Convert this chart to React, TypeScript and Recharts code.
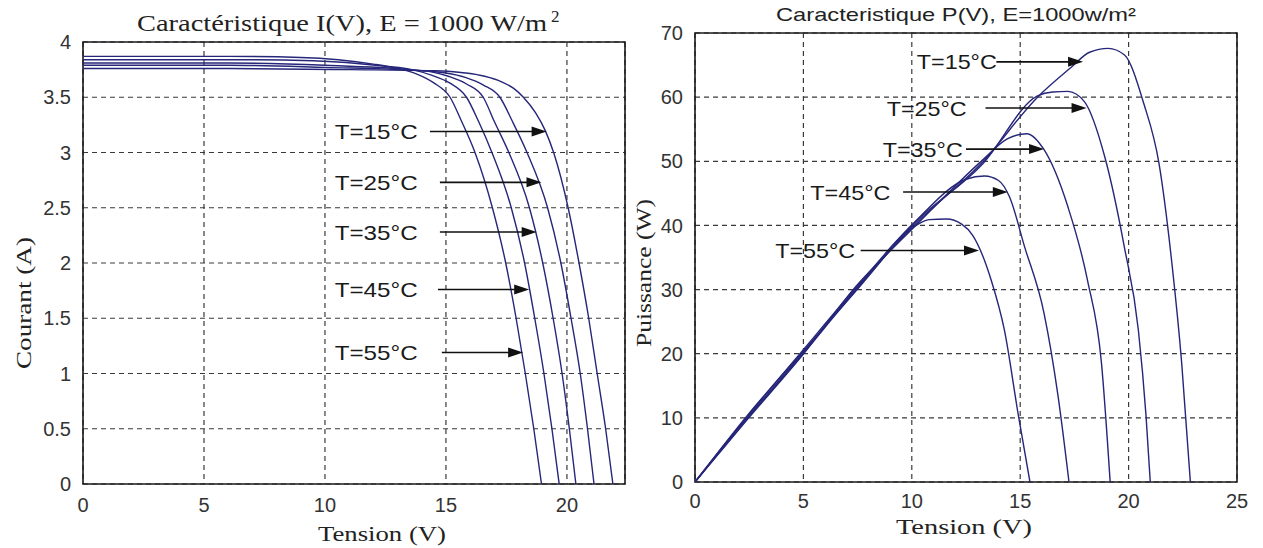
import React from 'react';
import {
  LineChart,
  Line,
  XAxis,
  YAxis,
  CartesianGrid,
  ReferenceLine,
  ReferenceDot,
  ReferenceArea,
} from 'recharts';

// ---------- labels ----------
const tempLabels = ['T=15°C', 'T=25°C', 'T=35°C', 'T=45°C', 'T=55°C'];
const ivXTicks = [0, 5, 10, 15, 20];
const ivYTicks = [0, 0.5, 1, 1.5, 2, 2.5, 3, 3.5, 4];
const pvXTicks = [0, 5, 10, 15, 20, 25];
const pvYTicks = [0, 10, 20, 30, 40, 50, 60, 70];

// ---------- I(V) curves ----------
const iv15V = [0, 6, 11, 14.5, 15.8, 16.6, 17.3, 17.8, 18.2, 18.7, 19.1, 19.45, 20.05, 20.5, 20.9, 21.25, 21.6, 21.9];
const iv15I = [3.76, 3.76, 3.75, 3.74, 3.72, 3.69, 3.64, 3.58, 3.5, 3.36, 3.2, 3.0, 2.5, 2.0, 1.5, 1.0, 0.5, 0];
const iv25V = [0, 6, 10, 14, 15.0, 15.8, 16.55, 17.23, 17.75, 18.35, 19.2, 19.75, 20.17, 20.55, 20.85, 21.12];
const iv25I = [3.79, 3.79, 3.77, 3.74, 3.72, 3.68, 3.61, 3.5, 3.28, 3.0, 2.5, 2.0, 1.5, 1.0, 0.5, 0];
const iv35V = [0, 6, 10, 13.5, 14.4, 15.1, 15.85, 16.54, 17.0, 17.6, 18.45, 19.0, 19.43, 19.8, 20.1, 20.37];
const iv35I = [3.81, 3.81, 3.79, 3.75, 3.73, 3.69, 3.62, 3.5, 3.28, 3.0, 2.5, 2.0, 1.5, 1.0, 0.5, 0];
const iv45V = [0, 6, 9.5, 12.5, 13.6, 14.4, 15.15, 15.85, 16.35, 16.9, 17.7, 18.25, 18.67, 19.05, 19.38, 19.68];
const iv45I = [3.84, 3.84, 3.83, 3.78, 3.75, 3.7, 3.63, 3.5, 3.28, 3.0, 2.5, 2.0, 1.5, 1.0, 0.5, 0];
const iv55V = [0, 6, 9, 12, 13, 13.8, 14.5, 15.17, 15.65, 16.2, 16.92, 17.47, 17.9, 18.28, 18.63, 18.95];
const iv55I = [3.87, 3.87, 3.86, 3.8, 3.76, 3.71, 3.63, 3.5, 3.28, 3.0, 2.5, 2.0, 1.5, 1.0, 0.5, 0];

// ---------- P(V) curves ----------
const pv15V = [0, 2.4, 4.94, 7.4, 10.1, 13.3, 15.8, 17.3, 18.2, 19.06, 19.8, 20.7, 21.4, 22.0, 22.45, 22.85];
const pv15P = [0, 10, 20, 30, 40, 50, 60, 64.5, 67, 67.6, 66.6, 59, 49.7, 34, 18.5, 0];
const pv25V = [0, 2.4, 4.94, 7.4, 10.1, 13.3, 15.8, 16.5, 17.2, 17.96, 18.9, 19.8, 20.45, 20.8, 21.0];
const pv25P = [0, 10.3, 20.2, 29.7, 40.3, 49.7, 60.2, 60.8, 60.9, 59.3, 50.7, 36.7, 23.7, 10.5, 0];
const pv35V = [0, 2.4, 4.94, 7.4, 10.1, 13.3, 14.4, 15.3, 16.1, 17.2, 18.1, 18.75, 19.15];
const pv35P = [0, 9.7, 19.7, 30.4, 39.7, 50.3, 53.5, 54.3, 51.8, 42.9, 31.5, 18.5, 0];
const pv45V = [0, 2.4, 4.94, 7.4, 10.1, 12.5, 13.35, 14.0, 14.5, 15.2, 16.1, 16.75, 17.25];
const pv45P = [0, 10.2, 20.4, 30.2, 40.4, 47.2, 47.7, 47, 44.5, 36.7, 26.3, 13.3, 0];
const pv55V = [0, 2.4, 4.94, 7.4, 10.1, 10.8, 11.6, 12.3, 12.8, 13.66, 14.27, 14.9, 15.45];
const pv55P = [0, 9.8, 19.8, 29.8, 39.8, 40.9, 41, 40.2, 38.5, 31.5, 23.7, 10.7, 0];

// ---------- annotations (data coordinates) ----------
const ivLabelX = [10.4, 10.4, 10.4, 10.4, 10.4];
const ivArrowLevel = [3.19, 2.73, 2.28, 1.76, 1.19];
const ivArrowStart = [14.34, 14.75, 14.75, 14.67, 14.83];
const ivArrowEnd = [19.16, 18.95, 18.75, 18.44, 18.19];

const pvLabelX = [10.23, 8.84, 8.66, 5.32, 3.7];
const pvArrowLevel = [65.5, 58.3, 51.9, 45.2, 36.1];
const pvArrowStart = [13.9, 13.4, 12.5, 9.6, 7.64];
const pvArrowEnd = [17.9, 18.06, 16.1, 14.43, 13.1];

const zip = (xs: number[], ys: number[]) => xs.map((x, i) => ({ x, y: ys[i] }));

const ivSeries = [
  zip(iv15V, iv15I),
  zip(iv25V, iv25I),
  zip(iv35V, iv35I),
  zip(iv45V, iv45I),
  zip(iv55V, iv55I),
];
const pvSeries = [
  zip(pv15V, pv15P),
  zip(pv25V, pv25P),
  zip(pv35V, pv35P),
  zip(pv45V, pv45P),
  zip(pv55V, pv55P),
];

const CURVE = '#26267a';
const GRID = '#3a3a3a';
const TICK_FONT = 'Arial, "Liberation Sans", sans-serif';
const SERIF = '"Times New Roman", "Liberation Serif", serif';

const Arrow = (props: any) => {
  const { x1, y1, x2, y2 } = props;
  const len = 15;
  const half = 5;
  return (
    <g>
      <line x1={x1} y1={y1} x2={x2 - len + 2} y2={y2} stroke="#111" strokeWidth={1.6} />
      <polygon points={`${x2},${y2} ${x2 - len},${y2 - half} ${x2 - len},${y2 + half}`} fill="#111" />
    </g>
  );
};

const makeLabel = (text: string, len: number) => (props: any) => (
  <text
    x={props.cx}
    y={props.cy}
    dy="0.36em"
    fontSize={21}
    fontFamily={TICK_FONT}
    fill="#1a1a1a"
    textLength={len}
    lengthAdjust="spacingAndGlyphs"
  >
    {text}
  </text>
);

const tickStyle = { fontSize: 20, fontFamily: TICK_FONT, fill: '#333' };

export default function App() {
  return (
    <div
      style={{
        position: 'absolute',
        left: 0,
        top: 0,
        width: 1263,
        height: 548,
        background: '#fff',
        overflow: 'hidden',
      }}
    >
      {/* Left chart: I(V) */}
      <div style={{ position: 'absolute', left: 0, top: 0 }}>
        <LineChart width={640} height={548} margin={{ top: 42, right: 15, bottom: 34, left: 43 }}>
          <CartesianGrid stroke={GRID} strokeDasharray="5 4" strokeWidth={1.2} />
          <XAxis
            dataKey="x"
            type="number"
            domain={[0, 22.4]}
            ticks={ivXTicks}
            allowDataOverflow
            height={30}
            tickLine={false}
            axisLine={false}
            tickMargin={8}
            tick={tickStyle}
            interval={0}
          />
          <YAxis
            type="number"
            domain={[0, 4]}
            ticks={ivYTicks}
            allowDataOverflow
            width={40}
            tickLine={false}
            axisLine={false}
            tickMargin={6}
            tick={tickStyle}
            interval={0}
          />
          <ReferenceArea x1={0} x2={22.4} y1={0} y2={4} fill="none" stroke="#1a1a1a" strokeWidth={1.6} />
          {ivSeries.map((d, i) => (
            <Line
              key={'iv' + i}
              data={d}
              dataKey="y"
              type="monotone"
              stroke={CURVE}
              strokeWidth={1.4}
              dot={false}
              isAnimationActive={false}
            />
          ))}
          {tempLabels.map((t, i) => (
            <ReferenceLine
              key={'iva' + i}
              segment={[
                { x: ivArrowStart[i], y: ivArrowLevel[i] },
                { x: ivArrowEnd[i], y: ivArrowLevel[i] },
              ]}
              shape={Arrow}
            />
          ))}
          {tempLabels.map((t, i) => (
            <ReferenceDot key={'ivl' + i} x={ivLabelX[i]} y={ivArrowLevel[i]} r={1} shape={makeLabel(t, 83)} />
          ))}
        </LineChart>
      </div>

      {/* Right chart: P(V) */}
      <div style={{ position: 'absolute', left: 640, top: 0 }}>
        <LineChart width={623} height={548} margin={{ top: 33, right: 26, bottom: 36, left: 10 }}>
          <CartesianGrid stroke={GRID} strokeDasharray="5 4" strokeWidth={1.2} />
          <XAxis
            dataKey="x"
            type="number"
            domain={[0, 25]}
            ticks={pvXTicks}
            allowDataOverflow
            height={30}
            tickLine={false}
            axisLine={false}
            tickMargin={6}
            tick={tickStyle}
            interval={0}
          />
          <YAxis
            type="number"
            domain={[0, 70]}
            ticks={pvYTicks}
            allowDataOverflow
            width={45}
            tickLine={false}
            axisLine={false}
            tickMargin={6}
            tick={tickStyle}
            interval={0}
          />
          <ReferenceArea x1={0} x2={25} y1={0} y2={70} fill="none" stroke="#1a1a1a" strokeWidth={1.6} />
          {pvSeries.map((d, i) => (
            <Line
              key={'pv' + i}
              data={d}
              dataKey="y"
              type="monotone"
              stroke={CURVE}
              strokeWidth={1.4}
              dot={false}
              isAnimationActive={false}
            />
          ))}
          {tempLabels.map((t, i) => (
            <ReferenceLine
              key={'pva' + i}
              segment={[
                { x: pvArrowStart[i], y: pvArrowLevel[i] },
                { x: pvArrowEnd[i], y: pvArrowLevel[i] },
              ]}
              shape={Arrow}
            />
          ))}
          {tempLabels.map((t, i) => (
            <ReferenceDot key={'pvl' + i} x={pvLabelX[i]} y={pvArrowLevel[i]} r={1} shape={makeLabel(t, 80)} />
          ))}
        </LineChart>
      </div>

      {/* Titles and axis labels */}
      <svg
        width={1263}
        height={548}
        style={{ position: 'absolute', left: 0, top: 0, pointerEvents: 'none' }}
      >
        <text x={137} y={31} fontSize={24} fontFamily={SERIF} fill="#222" textLength={410} lengthAdjust="spacingAndGlyphs">
          Caractéristique I(V), E = 1000 W/m
        </text>
        <text x={551} y={22} fontSize={17} fontFamily={SERIF} fill="#222">
          2
        </text>
        <text
          x={956}
          y={21}
          fontSize={19}
          fontFamily={TICK_FONT}
          fill="#222"
          textAnchor="middle"
          textLength={360}
          lengthAdjust="spacingAndGlyphs"
        >
          Caracteristique P(V), E=1000w/m²
        </text>
        <text
          x={382}
          y={541}
          fontSize={22}
          fontFamily={SERIF}
          fill="#222"
          textAnchor="middle"
          textLength={128}
          lengthAdjust="spacingAndGlyphs"
        >
          Tension (V)
        </text>
        <text
          x={964}
          y={534}
          fontSize={22}
          fontFamily={SERIF}
          fill="#222"
          textAnchor="middle"
          textLength={136}
          lengthAdjust="spacingAndGlyphs"
        >
          Tension (V)
        </text>
        <text
          transform="translate(31,303) rotate(-90)"
          fontSize={22}
          fontFamily={SERIF}
          fill="#222"
          textAnchor="middle"
          textLength={132}
          lengthAdjust="spacingAndGlyphs"
        >
          Courant (A)
        </text>
        <text
          transform="translate(651,273) rotate(-90)"
          fontSize={22}
          fontFamily={SERIF}
          fill="#222"
          textAnchor="middle"
          textLength={148}
          lengthAdjust="spacingAndGlyphs"
        >
          Puissance (W)
        </text>
      </svg>
    </div>
  );
}
